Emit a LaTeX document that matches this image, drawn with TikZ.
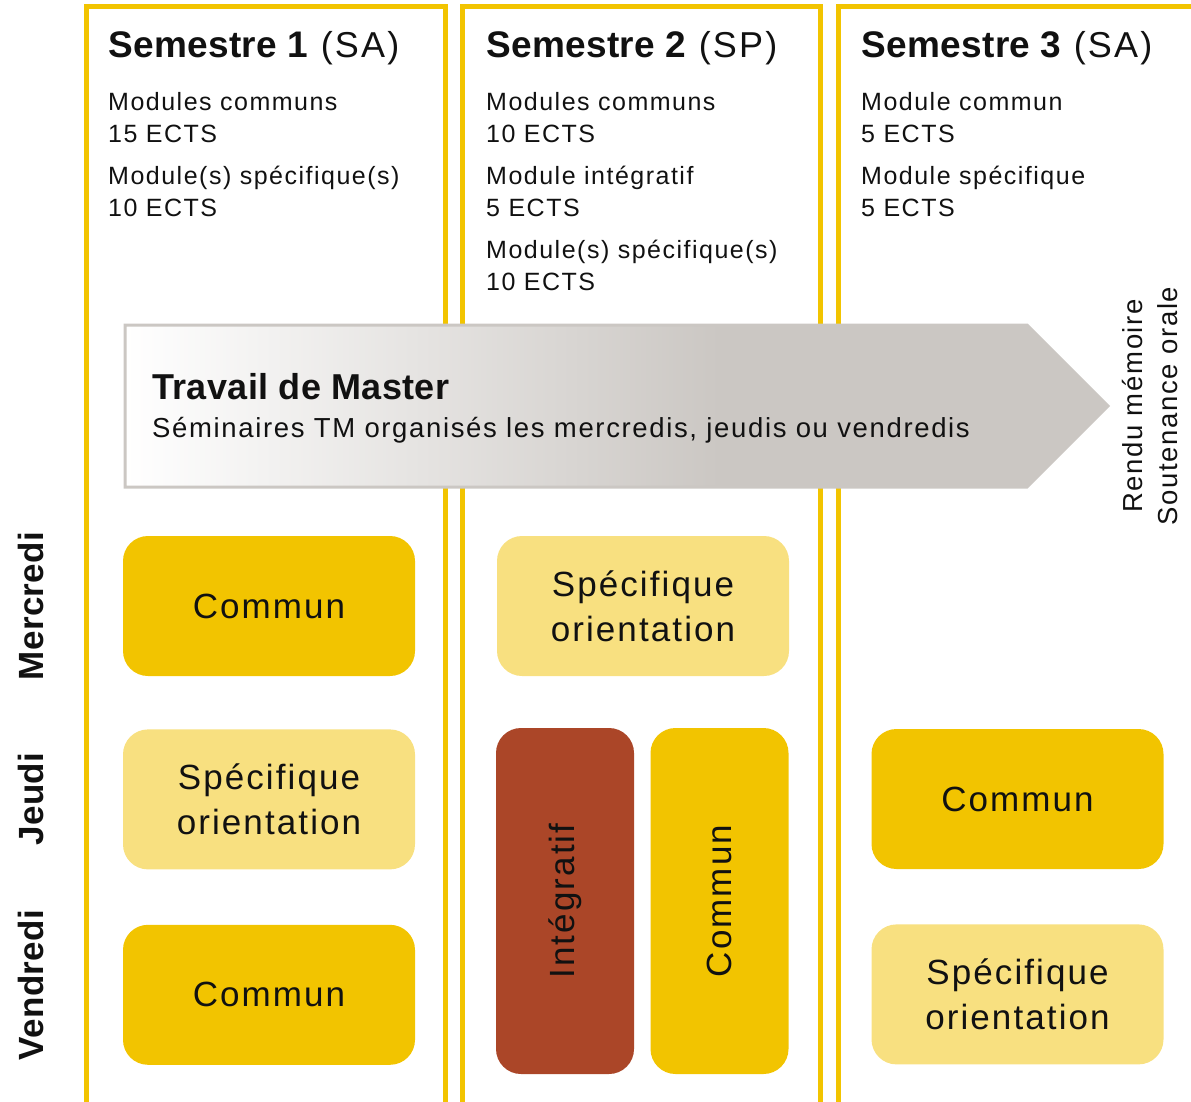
\documentclass[tikz,border=0pt]{standalone}
\usepackage{fontspec}
\setmainfont{Liberation Sans}[UprightFeatures={LetterSpace=6}, BoldFeatures={LetterSpace=1}]
\usetikzlibrary{positioning}

\definecolor{frameyel}{HTML}{F2C400}
\definecolor{darkyel}{HTML}{F2C400}
\definecolor{lightyel}{HTML}{F8E080}
\definecolor{brick}{HTML}{AB4628}
\definecolor{tmgray}{HTML}{CBC7C3}
\definecolor{inkblack}{HTML}{111111}

\newcommand{\titlesize}{\fontsize{36}{42}\selectfont}
\newcommand{\infosize}{\fontsize{25}{32}\selectfont}
\newcommand{\tmsize}{\fontsize{27.5}{35}\selectfont}
\newcommand{\slotsize}{\fontsize{35}{45}\selectfont}
\newcommand{\daysize}{\fontsize{35}{38}\selectfont\bfseries}

\tikzset{
  colframe/.style={draw=frameyel, line width=5pt},
  title/.style={anchor=base west, inner sep=0pt, font=\titlesize, text=inkblack},
  info/.style={anchor=north west, inner sep=0pt, align=left, font=\infosize, text=inkblack},
  slot/.style={rounded corners=25pt, minimum width=292pt, minimum height=140pt,
    inner sep=0pt, align=center, font=\slotsize, text=inkblack},
  tallslot/.style={slot, minimum width=346pt, minimum height=138pt, rotate=90},
  day/.style={rotate=90, inner sep=0pt, font=\daysize, text=inkblack},
}

\begin{document}
\begin{tikzpicture}[x=1pt, y=-1pt]

    \useasboundingbox (0,0) rectangle (1191,1102);

    % Semester columns
    \draw[colframe] (86.5,7) rectangle (445.5,1105);
    \draw[colframe] (462.5,7) rectangle (820,1105);
    \draw[colframe] (838.5,7) rectangle (1210,1105);

    % Travail de Master arrow
    \fill[tmgray] (125,325) -- (1027,325) -- (1108,406) -- (1027,487) -- (125,487) -- cycle;
    \shade[left color=white, right color=tmgray] (125,325) rectangle (720,487);
    \draw[tmgray, line width=3pt] (125,325) -- (1027,325) -- (1108,406) -- (1027,487) -- (125,487) -- cycle;

    % Semester headers
    \node[title] (sem1) at (108,58) {{\fontsize{37}{42}\selectfont\bfseries Semestre 1} (SA)};
    \node[title] (sem2) at (486,58) {{\fontsize{37}{42}\selectfont\bfseries Semestre 2} (SP)};
    \node[title] (sem3) at (861,58) {{\fontsize{37}{42}\selectfont\bfseries Semestre 3} (SA)};

    % Semester modules
    \node[info] (info1) at (108,92) {Modules communs\\15 ECTS\\[10pt]Module(s) spécifique(s)\\10 ECTS};
    \node[info] (info2) at (486,92) {Modules communs\\10 ECTS\\[10pt]Module intégratif\\5 ECTS\\[10pt]Module(s) spécifique(s)\\10 ECTS};
    \node[info] (info3) at (861,92) {Module commun\\5 ECTS\\[10pt]Module spécifique\\5 ECTS};

    % Arrow texts
    \node[anchor=base west, inner sep=0pt, font=\fontsize{36}{40}\selectfont\bfseries, text=inkblack] (tm) at (152,399) {Travail de Master};
    \node[anchor=base west, inner sep=0pt, font=\tmsize, text=inkblack] (tmsub) at (152,437) {Séminaires TM organisés les mercredis, jeudis ou vendredis};
    \node[rotate=90, inner sep=0pt, align=center, font=\tmsize, text=inkblack] (rendu) at (1150,406) {Rendu mémoire\\Soutenance orale};

    % Days
    \node[day] (wed) at (31,606) {Mercredi};
    \node[day] (thu) at (31,799) {Jeudi};
    \node[day] (fri) at (31,985) {Vendredi};

    % Course slots
    \node[slot, fill=darkyel]                 (wed1) at (269,606) {Commun};
    \node[slot, fill=lightyel, below=53pt of wed1] (thu1) {Spécifique\\orientation};
    \node[slot, fill=darkyel, below=55pt of thu1]  (fri1) {Commun};
    \node[slot, fill=lightyel]                (wed2) at (643,606) {Spécifique\\orientation};
    \node[tallslot, fill=brick]               (integ) at (565,901) {Intégratif};
    \node[tallslot, fill=darkyel]             (comm2) at (719.5,901) {Commun};
    \node[slot, fill=darkyel]                 (thu3) at (1017.5,799) {Commun};
    \node[slot, fill=lightyel, below=55pt of thu3] (fri3) {Spécifique\\orientation};

\end{tikzpicture}
\end{document}
